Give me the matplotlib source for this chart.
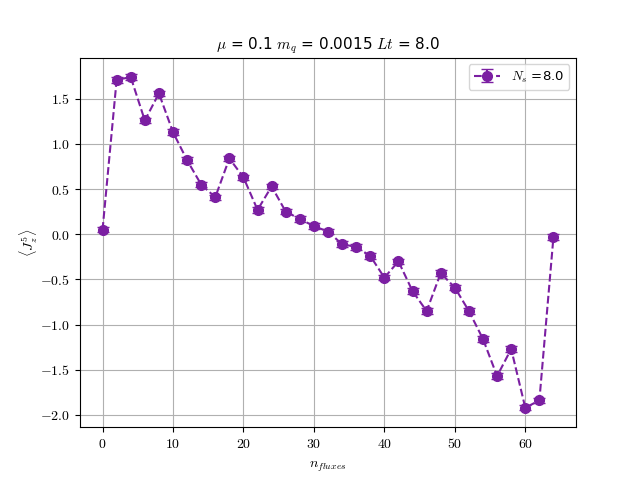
import matplotlib
matplotlib.use("Agg")
import matplotlib.pyplot as plt
import numpy as np

plt.rcParams['mathtext.fontset'] = 'cm'

n_fluxes = list(range(0, 65, 2))
j5z = [0.05, 1.71, 1.74, 1.26, 1.56, 1.13, 0.82, 0.55, 0.41, 0.84, 0.63, 0.27,
       0.53, 0.25, 0.17, 0.09, 0.03, -0.11, -0.14, -0.24, -0.48, -0.30, -0.63,
       -0.85, -0.43, -0.59, -0.85, -1.16, -1.57, -1.27, -1.92, -1.84, -0.03]
err = [0.03] * len(n_fluxes)
xticks = [0, 10, 20, 30, 40, 50, 60]
yticks = [-2.0, -1.5, -1.0, -0.5, 0.0, 0.5, 1.0, 1.5]

color = '#7b1fa2'
fig, ax = plt.subplots(figsize=(6.4, 4.8), dpi=100)
ax.errorbar(n_fluxes, j5z, yerr=err, fmt='o--', color=color, capsize=4.5,
            markersize=7, label=r'$N_s$ =8.0')
ax.set_title(r'$\mu$ = 0.1 $m_q$ = 0.0015 $Lt$ = 8.0', fontsize=11)
ax.set_xlabel(r'$n_{fluxes}$', labelpad=6)
ax.set_ylabel(r'$\langle J^5_z \rangle$', labelpad=0)
ax.grid(True)
ax.legend(loc='upper right', fontsize=9.5)
ax.set_xticks(xticks)
ax.set_xticklabels([f'${v}$' for v in xticks])
ax.set_yticks(yticks)
ax.set_yticklabels([f'${v:.1f}$' for v in yticks])
fig.savefig('out.png', dpi=100)
